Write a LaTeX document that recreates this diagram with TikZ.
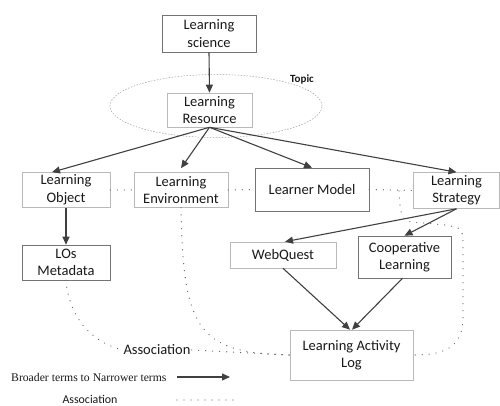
\documentclass[tikz,border=0pt]{standalone}
\usepackage{fontspec}
\setmainfont{Carlito}
\newfontfamily\legendfont{Liberation Serif}
\usetikzlibrary{arrows.meta,calc}
\begin{document}
\begin{tikzpicture}[x=1pt,y=-1pt,
  box/.style={draw=gray!55, line width=0.6pt, fill=white, align=center,
    font=\fontsize{14.5}{17.5}\selectfont, text=black!90, inner sep=0pt},
  dbox/.style={box, draw=black!55},
  arr/.style={-{Triangle[length=8pt,width=7pt]}, line width=1.1pt, draw=black!75},
  assoc/.style={draw=black!60, line width=1.3pt, line cap=round, dash pattern=on 0pt off 7pt},
  topicline/.style={draw=gray!75, line width=0.5pt, dash pattern=on 1.5pt off 1.5pt},
  lbl/.style={text=black!90, inner sep=1pt}
]
\useasboundingbox (0,0) rectangle (500,406);

% topic ellipse
\draw[topicline] (216,106) ellipse [x radius=106pt, y radius=31.5pt];
\node[lbl, font=\bfseries\fontsize{11}{13}\selectfont] (topic) at (302,80) {Topic};

% boxes
\node[dbox, minimum width=94pt, minimum height=37pt] (sci) at (209,33.5) {Learning\\science};
\node[box, minimum width=85pt, minimum height=34pt] (res) at (209.5,110) {Learning\\Resource};
\node[box, minimum width=88pt, minimum height=35pt] (lo) at (66,190) {Learning\\Object};
\node[box, minimum width=94pt, minimum height=35pt] (le) at (181,190) {Learning\\Environment};
\node[dbox, minimum width=114pt, minimum height=43pt] (lm) at (312,189.5) {Learner Model};
\node[box, minimum width=86pt, minimum height=36pt] (ls) at (456.5,190.5) {Learning\\Strategy};
\node[dbox, minimum width=88pt, minimum height=35pt] (lom) at (66,262.5) {LOs\\Metadata};
\node[box, minimum width=106pt, minimum height=26pt] (wq) at (283,255) {WebQuest};
\node[dbox, minimum width=93pt, minimum height=42pt] (cl) at (404.5,257) {Cooperative\\Learning};
\node[box, minimum width=123pt, minimum height=50pt] (lal) at (351.5,355) {Learning Activity\\Log};

\node[lbl, font=\fontsize{14.5}{17.5}\selectfont] (assoc) at (157,350) {Association};

% broader -> narrower arrows
\draw[arr] (sci.south) -- (res.north);
\draw[arr] (res.south) -- ($(lo.north)+(-14,0)$);
\draw[arr] (res.south) -- ($(le.north)+(0,-4)$);
\draw[arr] (res.south) -- (lm.north);
\draw[arr] (res.south) -- (ls.north);
\draw[arr] (lo.south) -- (lom.north);
\draw[arr] (ls.south) -- ($(wq.north)+(2,0)$);
\draw[arr] (ls.south) -- (cl.north);
\draw[arr] (wq.south) -- ($(lal.north)+(-1.5,0)$);
\draw[arr] ($(cl.south)+(-2,0)$) -- ($(lal.north)+(0.5,0)$);

% associations
\draw[assoc] (lo.east) -- (le.west);
\draw[assoc] (le.east) -- (lm.west);
\draw[assoc] (lm.east) -- (ls.west);
\coordinate (j) at (399,191);
\draw[assoc] (j) .. controls (401,222) .. (425,223) -- (445,225)
  .. controls (463,228) .. (463,250) -- (463,318)
  .. controls (463,350) and (440,355) .. (lal.east);
\draw[assoc] (le.south) .. controls (183,330) and (198,353) .. (lal.west);
\draw[assoc] (lom.south) to[out=-85,in=165] (assoc.west);
\draw[assoc] (assoc.east) -- (lal.west);

% legend
\node[lbl, anchor=west, font=\legendfont\fontsize{11.7}{14}\selectfont] (leg1) at (10,377) {Broader terms to Narrower terms};
\coordinate (la1) at (177,377);
\coordinate (la2) at (230,377);
\draw[arr] (la1) -- (la2);
\node[lbl, font=\fontsize{11.9}{14}\selectfont] (leg2) at (90,399.5) {Association};
\coordinate (lb1) at (177,400);
\coordinate (lb2) at (240,400);
\draw[assoc] (lb1) -- (lb2);
\end{tikzpicture}
\end{document}
